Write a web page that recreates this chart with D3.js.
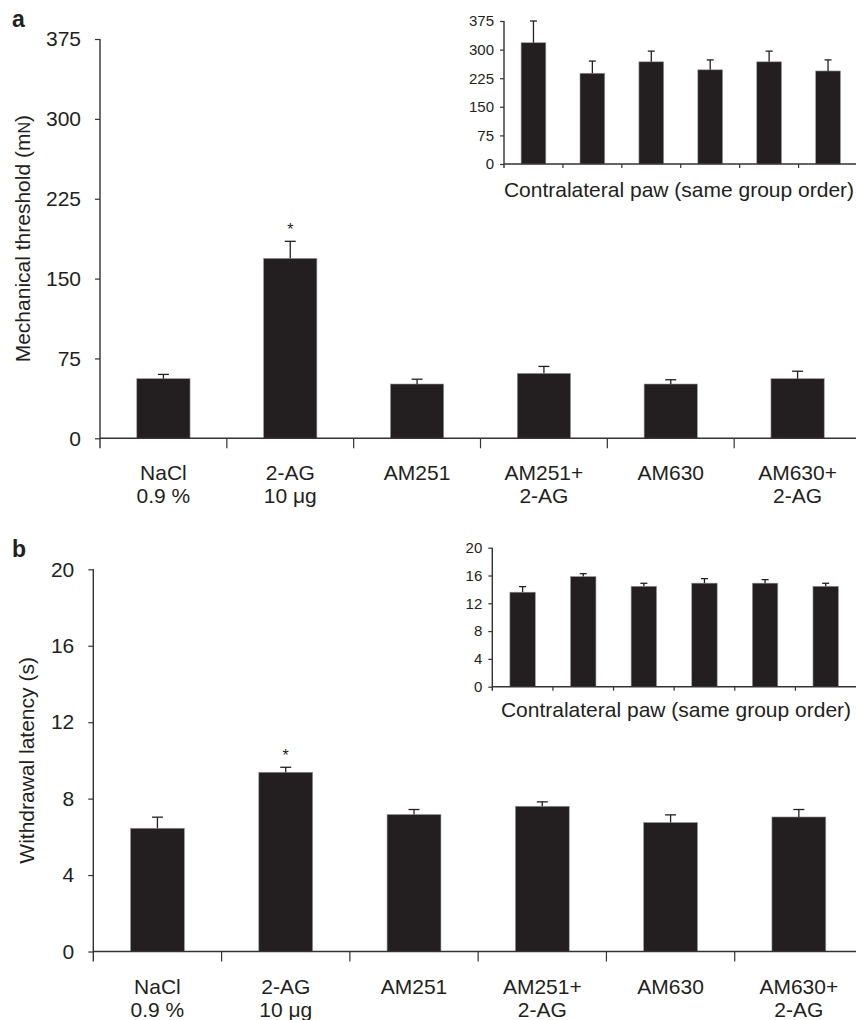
<!DOCTYPE html>
<html>
<head>
<meta charset="utf-8">
<script src="https://cdn.jsdelivr.net/npm/d3@7"></script>
<style>
  html, body { margin: 0; padding: 0; background: #fff; }
  svg { display: block; }
  text { font-family: "Liberation Sans", Arial, Helvetica, sans-serif; fill: #231f20; }
</style>
</head>
<body>
<svg id="chart" width="856" height="1020"></svg>
<script>
// ---- data ----
const catLine1 = ["NaCl", "2-AG", "AM251", "AM251+", "AM630", "AM630+"];
const catLine2 = ["0.9 %", "10 \u03bcg", "", "2-AG", "", "2-AG"];
const significant = [false, true, false, false, false, false];

const mechTicks = [0, 75, 150, 225, 300, 375];
const mechMean = [56, 169, 51, 61, 51, 56];
const mechErr = [4, 16, 4.5, 6.5, 4, 7];
const mechContraMean = [318, 238, 268, 247, 268, 244];
const mechContraErr = [57, 32, 28, 26, 28, 29];

const heatTicks = [0, 4, 8, 12, 16, 20];
const heatMean = [6.45, 9.38, 7.17, 7.6, 6.75, 7.04];
const heatErr = [0.58, 0.26, 0.26, 0.23, 0.4, 0.39];
const heatContraMean = [13.6, 15.85, 14.45, 14.9, 14.9, 14.45];
const heatContraErr = [0.8, 0.42, 0.43, 0.65, 0.5, 0.43];

const insetLabel = "Contralateral paw (same group order)";

const svg = d3.select("#chart");
const INK = "#231f20";
const AXIS = "#333";

function drawBars(parent, opts) {
  const g = parent.append("g");
  const idx = d3.range(opts.mean.length);
  const x = d3.scaleBand().domain(idx).range([opts.x0, opts.x1])
    .paddingInner(opts.pad).paddingOuter(opts.pad / 2);
  const y = d3.scaleLinear().domain([0, d3.max(opts.ticks)]).range([opts.y0, opts.yTop]);
  const step = x.step();
  const xStart = opts.x0;

  // bars
  g.selectAll("rect.bar").data(idx).join("rect")
    .attr("class", "bar")
    .attr("x", i => x(i))
    .attr("width", x.bandwidth())
    .attr("y", i => y(opts.mean[i]))
    .attr("height", i => y(0) - y(opts.mean[i]))
    .attr("fill", INK)
    .attr("stroke", "#9a9a9a")
    .attr("stroke-width", 0.6);

  // error bars (upper only)
  const eb = g.selectAll("g.err").data(idx).join("g").attr("class", "err");
  eb.append("line")
    .attr("x1", i => x(i) + x.bandwidth() / 2)
    .attr("x2", i => x(i) + x.bandwidth() / 2)
    .attr("y1", i => y(opts.mean[i]))
    .attr("y2", i => y(opts.mean[i] + opts.err[i]))
    .attr("stroke", INK).attr("stroke-width", 1.3);
  eb.append("line")
    .attr("x1", i => x(i) + x.bandwidth() / 2 - opts.cap / 2)
    .attr("x2", i => x(i) + x.bandwidth() / 2 + opts.cap / 2)
    .attr("y1", i => y(opts.mean[i] + opts.err[i]))
    .attr("y2", i => y(opts.mean[i] + opts.err[i]))
    .attr("stroke", INK).attr("stroke-width", 1.3);

  // y axis
  const yAxis = d3.axisLeft(y).tickValues(opts.ticks).tickSize(opts.yTick)
    .tickPadding(opts.yPad).tickSizeOuter(0);
  const ga = g.append("g").attr("transform", `translate(${xStart},0)`).call(yAxis);
  ga.select(".domain").remove();
  ga.selectAll(".tick line").attr("stroke", AXIS).attr("stroke-width", 1.2);
  ga.selectAll(".tick text")
    .style("font-family", '"Liberation Sans", Arial, sans-serif')
    .style("font-size", opts.yFont + "px").attr("fill", INK);
  g.append("line")
    .attr("x1", xStart).attr("x2", xStart)
    .attr("y1", y(d3.max(opts.ticks))).attr("y2", y(0) + opts.xTick)
    .attr("stroke", AXIS).attr("stroke-width", 1.4);

  // x axis line
  g.append("line")
    .attr("x1", xStart).attr("x2", opts.axisEnd)
    .attr("y1", y(0)).attr("y2", y(0))
    .attr("stroke", AXIS).attr("stroke-width", 1.4);
  // boundary ticks
  const bounds = d3.range(1, opts.mean.length).map(k => xStart + k * step);
  g.selectAll("line.xt").data(bounds).join("line").attr("class", "xt")
    .attr("x1", d => d).attr("x2", d => d)
    .attr("y1", y(0)).attr("y2", y(0) + opts.xTick)
    .attr("stroke", AXIS).attr("stroke-width", 1.2);

  return { x, y };
}

function drawPanel(cfg) {
  const g = svg.append("g");
  // panel letter
  g.append("text").attr("x", cfg.letterX).attr("y", cfg.letterY)
    .style("font-size", "23px").style("font-weight", "bold").text(cfg.letter);

  const main = drawBars(g, {
    mean: cfg.mean, err: cfg.err, ticks: cfg.ticks,
    x0: cfg.mx0, x1: cfg.mx1, y0: cfg.my0, yTop: cfg.myTop, pad: 0.58,
    cap: 11, yTick: 5, yPad: 14, yFont: 21, xTick: 10, axisEnd: 856
  });

  // significance asterisks
  g.selectAll("text.sig").data(d3.range(cfg.mean.length).filter(i => significant[i]))
    .join("text").attr("class", "sig")
    .attr("x", i => main.x(i) + main.x.bandwidth() / 2)
    .attr("y", i => main.y(cfg.mean[i] + cfg.err[i]) - 6)
    .attr("text-anchor", "middle")
    .style("font-size", "16px").text("*");

  // category labels
  const lab = g.selectAll("text.cat").data(d3.range(cfg.mean.length)).join("text")
    .attr("class", "cat")
    .attr("text-anchor", "middle")
    .style("font-size", "21px");
  lab.append("tspan")
    .attr("x", i => main.x(i) + main.x.bandwidth() / 2)
    .attr("y", main.y(0) + 42)
    .text(i => catLine1[i]);
  lab.append("tspan")
    .attr("x", i => main.x(i) + main.x.bandwidth() / 2)
    .attr("y", main.y(0) + 65)
    .text(i => catLine2[i]);

  // y title
  const yt = g.append("text")
    .attr("transform", `translate(${cfg.titleX},${(cfg.my0 + cfg.myTop) / 2}) rotate(-90)`)
    .attr("text-anchor", "middle").attr("dy", "0.35em")
    .style("font-size", "21px");
  cfg.title.forEach(p => {
    const t = yt.append("tspan").text(p.t);
    if (p.small) t.style("font-size", "16px");
  });

  // inset
  drawBars(g, {
    mean: cfg.imean, err: cfg.ierr, ticks: cfg.ticks,
    x0: cfg.ix0, x1: cfg.ix1, y0: cfg.iy0, yTop: cfg.iyTop, pad: 0.58,
    cap: 7, yTick: 4, yPad: 6, yFont: 15, xTick: 4, axisEnd: 856
  });
  g.append("text").attr("x", cfg.ilabX).attr("y", cfg.ilabY)
    .attr("text-anchor", "middle").style("font-size", "21px").text(insetLabel);
}

drawPanel({
  letter: "a", letterX: 12, letterY: 27,
  mean: mechMean, err: mechErr, ticks: mechTicks,
  mx0: 100, mx1: 861, my0: 438.3, myTop: 39,
  titleX: 23,
  title: [{ t: "Mechanical threshold (m" }, { t: "N", small: true }, { t: ")" }],
  imean: mechContraMean, ierr: mechContraErr,
  ix0: 504, ix1: 857.5, iy0: 164, iyTop: 21,
  ilabX: 679, ilabY: 197
});

drawPanel({
  letter: "b", letterX: 12, letterY: 557,
  mean: heatMean, err: heatErr, ticks: heatTicks,
  mx0: 93.3, mx1: 863, my0: 951.5, myTop: 569.3,
  titleX: 27,
  title: [{ t: "Withdrawal latency (s)" }],
  imean: heatContraMean, ierr: heatContraErr,
  ix0: 492.3, ix1: 856, iy0: 686.7, iyTop: 547.7,
  ilabX: 676, ilabY: 717
});
</script>
</body>
</html>
